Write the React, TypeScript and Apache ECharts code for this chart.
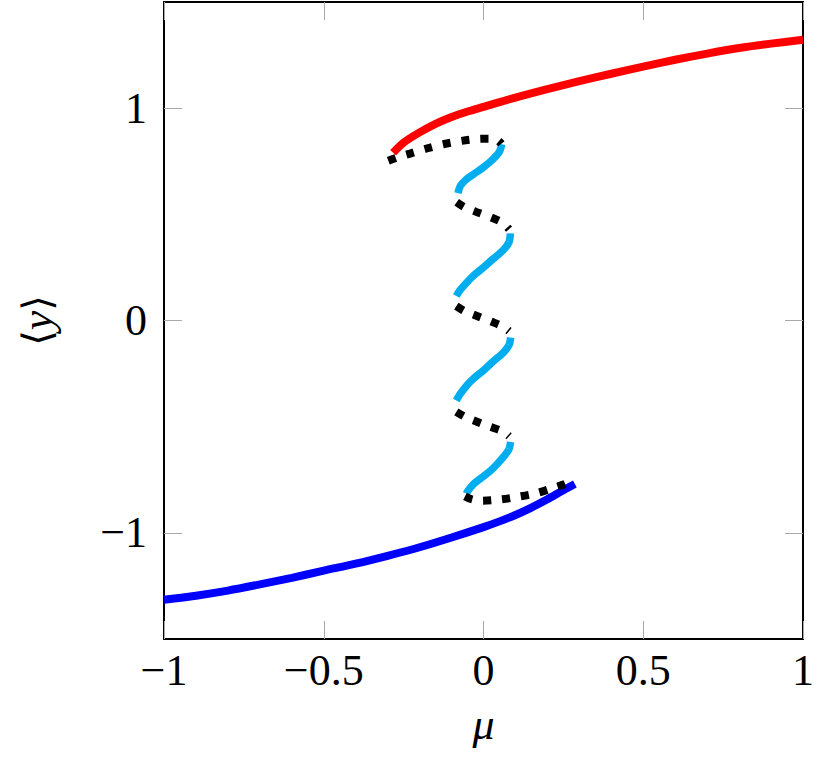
import React, { useEffect, useRef } from 'react';
import * as echarts from 'echarts';

// Axis ticks
const xTickValues = [-1, -0.5, 0, 0.5, 1];
const yTickValues = [-1, 0, 1];

// Upper stable branch (red): [mu, <y>]
const upperBranch: [number, number][] = [
  [-0.283, 0.79], [-0.25, 0.838], [-0.2, 0.886], [-0.15, 0.926], [-0.1, 0.958],
  [-0.05, 0.984], [0, 1.006], [0.1, 1.05], [0.2, 1.09], [0.3, 1.127],
  [0.4, 1.162], [0.5, 1.196], [0.6, 1.228], [0.7, 1.257], [0.8, 1.283],
  [0.9, 1.304], [1.0, 1.322],
];

// Lower stable branch (blue)
const lowerBranch: [number, number][] = [
  [-1, -1.315], [-0.9, -1.296], [-0.8, -1.272], [-0.7, -1.243], [-0.6, -1.212],
  [-0.5, -1.178], [-0.4, -1.145], [-0.3, -1.108], [-0.2, -1.068], [-0.1, -1.022],
  [0, -0.973], [0.05, -0.946], [0.1, -0.916], [0.15, -0.881], [0.2, -0.842],
  [0.25, -0.799], [0.286, -0.77],
];

// Unstable segments (black dotted)
const unstable1: [number, number][] = [
  [-0.298, 0.752], [-0.265, 0.77], [-0.23, 0.786], [-0.178, 0.81], [-0.126, 0.83],
  [-0.068, 0.846], [-0.016, 0.855], [0.02, 0.856], [0.045, 0.848], [0.056, 0.832],
];
const unstable2: [number, number][] = [
  [-0.084, 0.557], [-0.06, 0.534], [-0.027, 0.514], [0.026, 0.484], [0.06, 0.46], [0.08, 0.43],
];
const unstable3: [number, number][] = [
  [-0.085, 0.068], [-0.06, 0.045], [-0.032, 0.028], [0.026, -0.006], [0.06, -0.028], [0.08, -0.05],
];
const unstable4: [number, number][] = [
  [-0.085, -0.43], [-0.06, -0.452], [-0.032, -0.47], [0.02, -0.5], [0.06, -0.522], [0.08, -0.545],
];
const unstable5: [number, number][] = [
  [-0.058, -0.828], [-0.035, -0.843], [-0.006, -0.849], [0.052, -0.843], [0.109, -0.83],
  [0.166, -0.813], [0.219, -0.788], [0.255, -0.77], [0.283, -0.752],
];

// Snaking stable segments (cyan)
const snake1: [number, number][] = [
  [0.057, 0.83], [0.05, 0.795], [0.03, 0.76], [0, 0.722], [-0.03, 0.69],
  [-0.055, 0.663], [-0.072, 0.635], [-0.08, 0.6],
];
const snake2: [number, number][] = [
  [0.084, 0.41], [0.08, 0.37], [0.062, 0.332], [0.03, 0.29], [0, 0.25],
  [-0.03, 0.213], [-0.053, 0.178], [-0.075, 0.14], [-0.085, 0.115],
];
const snake3: [number, number][] = [
  [0.085, -0.08], [0.08, -0.115], [0.062, -0.151], [0.03, -0.193], [0, -0.235],
  [-0.03, -0.272], [-0.053, -0.307], [-0.075, -0.35], [-0.085, -0.377],
];
const snake4: [number, number][] = [
  [0.085, -0.572], [0.08, -0.605], [0.067, -0.634], [0.045, -0.672], [0.02, -0.71],
  [-0.01, -0.745], [-0.032, -0.772], [-0.05, -0.805], [-0.053, -0.815],
];

const SERIF = "'Liberation Serif', 'DejaVu Serif', serif";
const TICK_COLOR = '#a8a8a8';

function fmt(v: number): string {
  return String(v).replace('-', '\u2212');
}

export default function App() {
  const ref = useRef<HTMLDivElement>(null);

  useEffect(() => {
    if (!ref.current) return;
    const chart = echarts.init(ref.current, undefined, { renderer: 'svg' });

    const tick = { show: true, inside: true, length: 18, lineStyle: { color: TICK_COLOR, width: 1 } };
    const labelStyle = { fontFamily: SERIF, fontSize: 44, color: '#000' };
    const noLine = { show: false, onZero: false };

    const solid = (data: [number, number][], color: string, width: number, z: number) => ({
      type: 'line',
      data,
      showSymbol: false,
      smooth: 0.3,
      clip: true,
      z,
      lineStyle: { color, width, cap: 'butt' },
    });
    const dotted = (data: [number, number][]) => ({
      type: 'line',
      data,
      showSymbol: false,
      smooth: 0.3,
      clip: true,
      z: 5,
      lineStyle: { color: '#000', width: 8, type: [8, 11], cap: 'butt' },
    });

    chart.setOption({
      animation: false,
      backgroundColor: '#fff',
      grid: {
        left: 164, right: 27, top: 2, bottom: 124,
        show: true, borderColor: '#000', borderWidth: 2, backgroundColor: 'transparent',
      },
      xAxis: [
        {
          type: 'value', min: -1, max: 1, interval: 0.5, position: 'bottom',
          name: 'μ', nameLocation: 'middle', nameGap: 63,
          nameTextStyle: { fontFamily: SERIF, fontStyle: 'italic', fontSize: 44, color: '#000' },
          axisLine: noLine,
          axisTick: tick,
          axisLabel: { ...labelStyle, margin: 9, formatter: fmt },
          splitLine: { show: false },
        },
        {
          type: 'value', min: -1, max: 1, interval: 0.5, position: 'top',
          axisLine: noLine, axisTick: tick,
          axisLabel: { show: false }, splitLine: { show: false },
        },
      ],
      yAxis: [
        {
          type: 'value', min: -1.5, max: 1.5, interval: 0.5, position: 'left',
          name: '{a|⟨}{b|y}{a|⟩}', nameLocation: 'middle', nameRotate: 90, nameGap: 105,
          nameTextStyle: {
            color: '#000',
            rich: {
              a: { fontFamily: "'DejaVu Sans', serif", fontSize: 40, color: '#000' },
              b: { fontFamily: SERIF, fontStyle: 'italic', fontSize: 44, color: '#000' },
            },
          },
          axisLine: noLine,
          axisTick: { ...tick, customValues: yTickValues },
          axisLabel: { ...labelStyle, margin: 17, formatter: fmt, customValues: yTickValues },
          splitLine: { show: false },
        },
        {
          type: 'value', min: -1.5, max: 1.5, interval: 0.5, position: 'right',
          axisLine: noLine,
          axisTick: { ...tick, customValues: yTickValues },
          axisLabel: { show: false, customValues: yTickValues }, splitLine: { show: false },
        },
      ],
      series: [
        solid(upperBranch, '#ff0000', 8, 3),
        solid(lowerBranch, '#0000ff', 8, 3),
        solid(snake1, '#00adef', 7.5, 4),
        solid(snake2, '#00adef', 7.5, 4),
        solid(snake3, '#00adef', 7.5, 4),
        solid(snake4, '#00adef', 7.5, 4),
        dotted(unstable1),
        dotted(unstable2),
        dotted(unstable3),
        dotted(unstable4),
        dotted(unstable5),
      ],
    });

    return () => chart.dispose();
  }, []);

  return (
    <div
      ref={ref}
      style={{ position: 'fixed', left: 0, top: 0, width: 830, height: 763, background: '#fff' }}
    />
  );
}
